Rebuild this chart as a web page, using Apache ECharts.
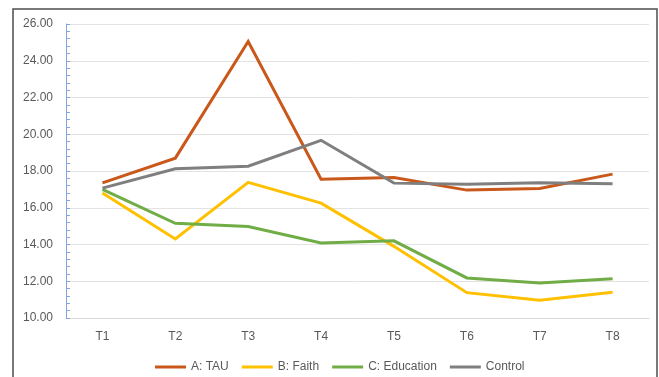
<!DOCTYPE html>
<html>
<head>
<meta charset="utf-8">
<script src="https://cdn.jsdelivr.net/npm/echarts@6/dist/echarts.min.js"></script>
<style>
  html, body { margin: 0; padding: 0; background: #fff; overflow: hidden; }
  #chart { width: 659px; height: 377px; }
</style>
</head>
<body>
<div id="chart"></div>
<script>
// categories + values
var timePoints = ['T1', 'T2', 'T3', 'T4', 'T5', 'T6', 'T7', 'T8'];
var seriesNames = ['A: TAU', 'B: Faith', 'C: Education', 'Control'];

var tau = [17.35, 18.7, 25.05, 17.55, 17.65, 16.96, 17.05, 17.83];
var faith = [16.8, 14.3, 17.38, 16.25, 13.9, 11.38, 10.97, 11.4];
var education = [17.0, 15.15, 14.98, 14.08, 14.2, 12.18, 11.9, 12.13];
var control = [17.07, 18.12, 18.26, 19.67, 17.34, 17.28, 17.36, 17.3];

var colors = ['#C9581A', '#FFC000', '#70AD47', '#7F7F7F'];

var myChart = echarts.init(document.getElementById('chart'));

function makeLine(name, data, color) {
    return {
        name: name,
        type: 'line',
        data: data,
        symbol: 'none',
        lineStyle: { width: 3, color: color, join: 'miter' },
        itemStyle: { color: color }
    };
}

var option = {
    animation: false,
    textStyle: { fontFamily: 'Liberation Sans' },
    graphic: [{
        type: 'rect',
        shape: { x: 13, y: 9, width: 644, height: 400 },
        style: { fill: 'none', stroke: '#4D4D4D', lineWidth: 1.5 },
        silent: true
    }],
    legend: {
        data: seriesNames,
        left: 150,
        top: 356,
        icon: 'rect',
        itemWidth: 31,
        itemHeight: 3,
        itemGap: 13,
        textStyle: { color: '#595959', fontSize: 12, fontFamily: 'Liberation Sans' }
    },
    grid: {
        left: 66,
        right: 10,
        top: 24,
        bottom: 59,
        containLabel: false
    },
    xAxis: {
        type: 'category',
        data: timePoints,
        boundaryGap: true,
        axisLine: { show: true, lineStyle: { color: '#D9D9D9', width: 1 } },
        axisTick: { show: false },
        axisLabel: { color: '#595959', fontSize: 12, margin: 13 }
    },
    yAxis: {
        type: 'value',
        min: 10,
        max: 26,
        interval: 2,
        axisLine: { show: true, lineStyle: { color: '#7FA6E0', width: 1 } },
        axisTick: { show: true, inside: true, length: 4, lineStyle: { color: '#7FA6E0' } },
        minorTick: { show: true, splitNumber: 5, length: 4, lineStyle: { color: '#7FA6E0' } },
        axisLabel: {
            color: '#595959',
            fontSize: 12,
            margin: 13,
            formatter: function (v) { return v.toFixed(2); }
        },
        splitLine: { lineStyle: { color: '#E3E3E3', width: 1 } }
    },
    series: [
        makeLine(seriesNames[0], tau, colors[0]),
        makeLine(seriesNames[1], faith, colors[1]),
        makeLine(seriesNames[2], education, colors[2]),
        makeLine(seriesNames[3], control, colors[3])
    ]
};

myChart.setOption(option);
</script>
</body>
</html>
